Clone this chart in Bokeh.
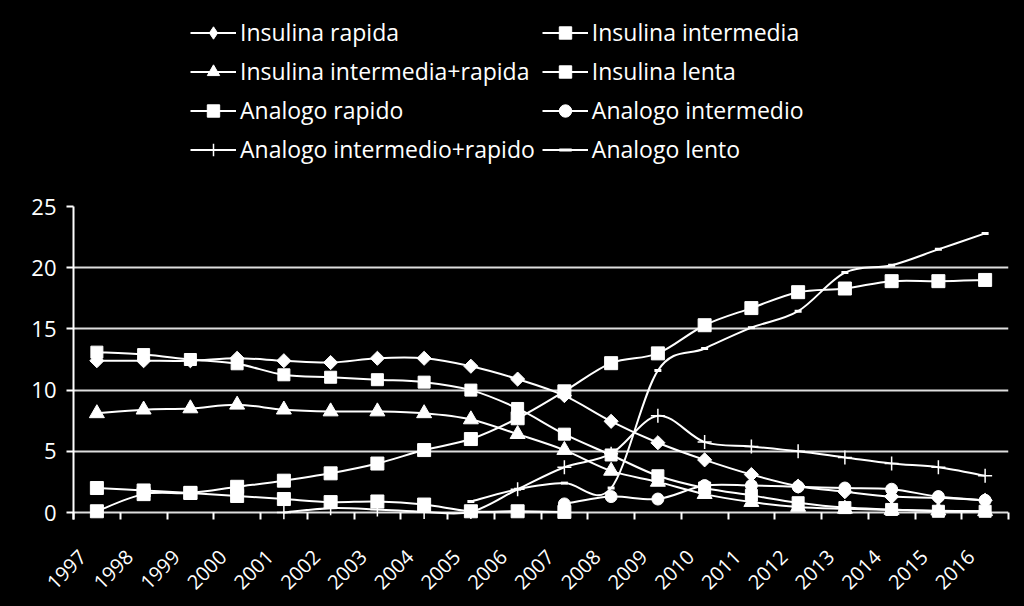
import numpy as np
from bokeh.plotting import figure
from bokeh.layouts import column
from bokeh.models import Range1d, FixedTicker, Legend, LegendItem, ColumnDataSource
from bokeh.embed import file_html
from bokeh.resources import INLINE

# ---------------- data ----------------
years = [str(y) for y in range(1997, 2017)]

insulina_rapida = [12.4, 12.4, 12.4, 12.6, 12.4, 12.25, 12.6, 12.6, 11.95, 10.9,
                   9.55, 7.45, 5.7, 4.3, 3.1, 2.15, 1.7, 1.3, 1.2, 1.0]
insulina_intermedia = [13.1, 12.9, 12.5, 12.15, 11.25, 11.05, 10.85, 10.65, 10.0, 8.5,
                       6.4, 4.7, 3.0, 2.0, 1.4, 0.8, 0.4, 0.25, 0.1, 0.1]
insulina_intermedia_rapida = [8.1, 8.4, 8.5, 8.8, 8.4, 8.25, 8.25, 8.1, 7.6, 6.4,
                              5.1, 3.4, 2.5, 1.5, 0.85, 0.45, 0.3, 0.2, 0.15, 0.1]
insulina_lenta = [2.0, 1.8, 1.6, 1.35, 1.1, 0.85, 0.9, 0.65, 0.1, 0.1,
                  0.05, None, None, None, None, None, None, None, None, None]
analogo_rapido = [0.1, 1.5, 1.6, 2.1, 2.6, 3.2, 4.0, 5.1, 6.0, 7.7,
                  9.9, 12.2, 13.0, 15.3, 16.7, 18.0, 18.3, 18.9, 18.9, 19.0]
analogo_intermedio = [None, None, None, None, None, None, None, None, None, None,
                      0.7, 1.3, 1.1, 2.2, 2.2, 2.1, 2.0, 1.9, 1.3, 1.0]
analogo_intermedio_rapido = [None, None, None, None, 0.0, 0.35, 0.25, 0.05, 0.05, 1.9,
                             3.7, 4.8, 7.9, 5.75, 5.4, 5.0, 4.5, 4.0, 3.7, 3.0]
analogo_lento = [None, None, None, None, None, None, None, None, 0.9, 1.9,
                 2.4, 2.0, 11.6, 13.4, 15.1, 16.45, 19.6, 20.2, 21.5, 22.8]

y_ticks = [0, 5, 10, 15, 20, 25]

series = [
    ("Insulina rapida", insulina_rapida),
    ("Insulina intermedia", insulina_intermedia),
    ("Insulina intermedia+rapida", insulina_intermedia_rapida),
    ("Insulina lenta", insulina_lenta),
    ("Analogo rapido", analogo_rapido),
    ("Analogo intermedio", analogo_intermedio),
    ("Analogo intermedio+rapido", analogo_intermedio_rapido),
    ("Analogo lento", analogo_lento),
]

# marker styles (visual only); "leg" overrides the legend proxy marker
styles = {
    "Insulina rapida": dict(marker="square", size=10, angle=np.pi / 4, line_width=1,
                            leg=dict(marker="diamond", size=17)),
    "Insulina intermedia": dict(marker="square", size=12, line_width=1),
    "Insulina intermedia+rapida": dict(marker="triangle", size=15, line_width=1),
    "Insulina lenta": dict(marker="square", size=13, line_width=1),
    "Analogo rapido": dict(marker="square", size=13, line_width=1),
    "Analogo intermedio": dict(marker="circle", size=12, line_width=1),
    "Analogo intermedio+rapido": dict(marker="cross", size=14, line_width=1.5),
    "Analogo lento": dict(marker="dash", size=7, line_width=3),
}

FONT = "Open Sans"
WHITE = "#ffffff"


def smooth_segments(vals):
    """Excel-like smoothed line: cubic Bezier control points from neighbouring data points."""
    pts = [(i, v) for i, v in enumerate(vals) if v is not None]
    runs, cur = [], []
    for i, v in pts:
        if cur and i != cur[-1][0] + 1:
            runs.append(cur)
            cur = []
        cur.append((i, v))
    if cur:
        runs.append(cur)
    d = dict(x0=[], y0=[], x1=[], y1=[], cx0=[], cy0=[], cx1=[], cy1=[])
    for run in runs:
        n = len(run)
        for k in range(n - 1):
            p0 = run[k - 1] if k > 0 else run[k]
            p1 = run[k]
            p2 = run[k + 1]
            p3 = run[k + 2] if k + 2 < n else run[k + 1]
            d["x0"].append(p1[0]); d["y0"].append(p1[1])
            d["x1"].append(p2[0]); d["y1"].append(p2[1])
            d["cx0"].append(p1[0] + (p2[0] - p0[0]) / 6.0)
            d["cy0"].append(p1[1] + (p2[1] - p0[1]) / 6.0)
            d["cx1"].append(p2[0] - (p3[0] - p1[0]) / 6.0)
            d["cy1"].append(p2[1] - (p3[1] - p1[1]) / 6.0)
    return d


# ---------------- legend figure (top band) ----------------
LEG_H = 190
lf = figure(
    width=1024, height=LEG_H, min_border=0, min_border_left=73, min_border_right=16,
    x_range=Range1d(0, 1), y_range=Range1d(0, 1),
    x_axis_location=None, y_axis_location=None,
    output_backend="svg", toolbar_location=None,
    background_fill_color="black", border_fill_color="black",
    styles={"background-color": "black"},
)
lf.outline_line_color = None
lf.xgrid.grid_line_color = None
lf.ygrid.grid_line_color = None

# ---------------- main chart ----------------
y_bottom = -7.0 / (306.0 / 25.0)

p = figure(
    width=1024, height=606 - LEG_H,
    frame_width=935, frame_height=313,
    min_border_left=73, min_border_right=16, min_border_top=206 - LEG_H, min_border_bottom=87,
    x_range=Range1d(-0.5, 19.5), y_range=Range1d(y_bottom, 25),
    output_backend="svg", toolbar_location=None,
    background_fill_color="black", border_fill_color="black",
    styles={"background-color": "black"},
)
p.outline_line_color = None

p.xgrid.grid_line_color = None
p.ygrid.ticker = FixedTicker(ticks=y_ticks)
p.ygrid.grid_line_color = "#dedede"
p.ygrid.grid_line_width = 2

yax = p.yaxis[0]
yax.ticker = FixedTicker(ticks=y_ticks)
yax.axis_line_color = WHITE
yax.axis_line_width = 2
yax.major_tick_line_color = WHITE
yax.major_tick_line_width = 2
yax.major_tick_out = 7
yax.major_tick_in = 0
yax.minor_tick_line_color = None
yax.major_label_text_color = WHITE
yax.major_label_text_font = FONT
yax.major_label_text_font_size = "22px"
yax.major_label_standoff = 10

# year labels sit slightly left of each category centre (as in the reference)
LABEL_SHIFT = 0.3
label_pos = [i - LABEL_SHIFT for i in range(len(years))]
xax = p.xaxis[0]
xax.ticker = FixedTicker(ticks=label_pos,
                         minor_ticks=[i - 0.5 for i in range(len(years) + 1)])
xax.major_label_overrides = {pos: y for pos, y in zip(label_pos, years)}
xax.axis_line_color = None
xax.major_tick_line_color = None
xax.minor_tick_line_color = WHITE
xax.minor_tick_line_width = 2
xax.minor_tick_in = 7
xax.minor_tick_out = 0
xax.major_label_orientation = np.pi / 4
xax.major_label_text_color = WHITE
xax.major_label_text_font = FONT
xax.major_label_text_font_size = "20px"
xax.major_label_standoff = 28

items = []
x_idx = list(range(len(years)))
for name, vals in series:
    seg = ColumnDataSource(smooth_segments(vals))
    p.bezier(x0="x0", y0="y0", x1="x1", y1="y1", cx0="cx0", cy0="cy0",
             cx1="cx1", cy1="cy1", source=seg, line_color=WHITE, line_width=2)
    yv = np.array([np.nan if v is None else v for v in vals], dtype=float)
    st = styles[name]
    p.scatter(x=x_idx, y=yv, marker=st["marker"], size=st["size"],
              angle=st.get("angle", 0.0), fill_color=WHITE, line_color=WHITE,
              line_width=st["line_width"])
    # legend proxies in the top band (placed outside its visible range)
    lg = st.get("leg", {})
    lline = lf.line(x=[-10, -9], y=[-10, -10], line_color=WHITE, line_width=2)
    lsc = lf.scatter(x=[-10], y=[-10], marker=lg.get("marker", st["marker"]),
                     size=lg.get("size", st["size"]), fill_color=WHITE, line_color=WHITE,
                     line_width=st["line_width"])
    items.append(LegendItem(label=name, renderers=[lline, lsc]))

# legend fills column-first: reorder so that rows read like the reference
order = [0, 2, 4, 6, 1, 3, 5, 7]
legend = Legend(items=[items[k] for k in order], ncols=2, location=(117, 25))
legend.background_fill_alpha = 0
legend.border_line_color = None
legend.padding = 0
legend.margin = 0
legend.spacing = 7
legend.glyph_width = 46
legend.glyph_height = 31
legend.label_height = 31
legend.label_standoff = 4
legend.label_text_color = WHITE
legend.label_text_font = FONT
legend.label_text_font_size = "23px"
legend.label_text_baseline = "middle"
lf.add_layout(legend, "center")

layout = column(lf, p, spacing=0, styles={"background-color": "black"})
open("out.html", "w").write(file_html(layout, INLINE))
